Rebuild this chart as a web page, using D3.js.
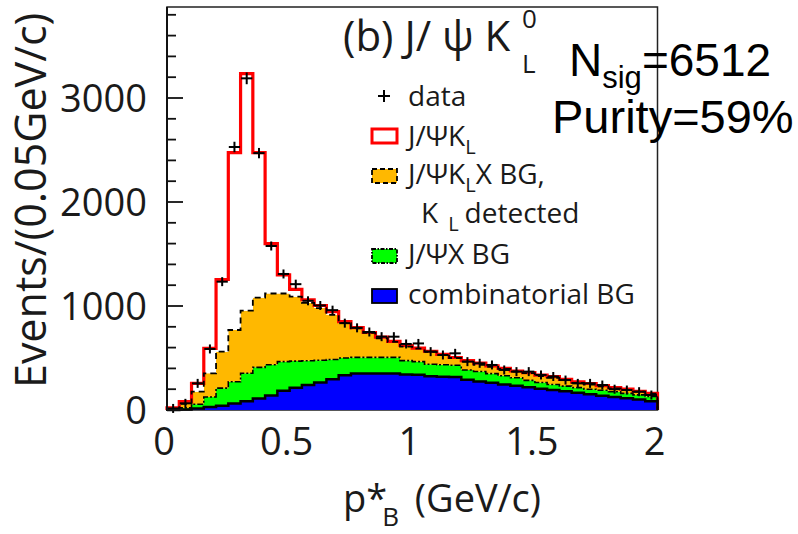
<!DOCTYPE html>
<html>
<head>
<meta charset="utf-8">
<script src="https://cdn.jsdelivr.net/npm/d3@7"></script>
<style>
  body { margin: 0; background: #fff; }
  text { font-family: "Open Sans", "DejaVu Sans", sans-serif; fill: #1a1a1a; }
  .stat { font-family: "Liberation Sans", Arial, sans-serif; fill: #000; }
</style>
</head>
<body>
<svg id="chart" width="798" height="534"></svg>
<script>
// p*_B histogram, 40 bins of 0.05 GeV/c from 0 to 2
const binWidth = 0.05;
const xTicks = [0, 0.5, 1, 1.5, 2];
const xTickLabels = ["0", "0.5", "1", "1.5", "2"];
const yTicks = [0, 1000, 2000, 3000];
const yTickLabels = ["0", "1000", "2000", "3000"];

// stacked components, events per bin
const combinatorialBG = [0, 5, 15, 30, 42, 62, 85, 110, 140, 185, 215, 240, 265, 295, 335, 350, 352, 352, 350, 342,
                         338, 325, 320, 318, 290, 275, 262, 245, 232, 218, 205, 192, 180, 165, 152, 138, 125, 112, 100, 85];
const jpsiXBG = [5, 15, 40, 95, 168, 210, 268, 300, 295, 280, 255, 234, 213, 190, 165, 156, 154, 154, 156, 133,
                 127, 115, 115, 112, 95, 95, 88, 85, 78, 67, 60, 53, 50, 50, 48, 52, 50, 48, 45, 45];
const jpsiKLXBG = [5, 38, 121, 228, 351, 497, 602, 670, 685, 655, 620, 556, 502, 430, 335, 279, 236, 184, 149, 135,
                   125, 120, 95, 70, 80, 65, 65, 65, 60, 70, 60, 65, 58, 45, 45, 38, 33, 32, 31, 28];
const jpsiKLSignal = [10, 22, 80, 240, 694, 1706, 2280, 1395, 480, 180, 70, 30, 25, 30, 15, 7, 3, 10, 5, 10,
                      5, 5, 5, 5, 10, 15, 10, 5, 5, 5, 10, 10, 7, 10, 10, 7, 7, 8, 4, 2];
const dataCounts = [15, 64, 256, 587, 1234, 2529, 3189, 2470, 1577, 1308, 1210, 1050, 1005, 960, 835, 790, 750, 705, 705, 635,
                    640, 561, 529, 545, 465, 449, 433, 385, 369, 369, 337, 322, 288, 256, 256, 240, 200, 192, 176, 144];

const svg = d3.select("#chart");
const plotLeft = 167, plotRight = 657.5, plotTop = 7, plotBottom = 410;

const x = d3.scaleLinear().domain([0, 2]).range([plotLeft, plotRight]);
const y = d3.scaleLinear().domain([0, 3875]).range([plotBottom, plotTop]);

const keys = ["comb", "jpsiX", "jpsiKLX", "signal"];
const rows = combinatorialBG.map((v, i) => ({
  lo: i * binWidth,
  comb: v, jpsiX: jpsiXBG[i], jpsiKLX: jpsiKLXBG[i], signal: jpsiKLSignal[i]
}));
const series = d3.stack().keys(keys)(rows);

const styles = {
  comb:    { fill: "#0000ff", stroke: "#000", width: 2.5, dash: null },
  jpsiX:   { fill: "#00ff00", stroke: "#000", width: 1.6, dash: "6,2,2,2" },
  jpsiKLX: { fill: "#ffb800", stroke: "#000", width: 1.8, dash: "6,4" },
  signal:  { fill: "#ffffff", stroke: "#ff0000", width: 3.2, dash: null }
};

// frame
svg.append("rect")
  .attr("x", plotLeft).attr("y", plotTop)
  .attr("width", plotRight - plotLeft).attr("height", plotBottom - plotTop)
  .attr("fill", "none").attr("stroke", "#222").attr("stroke-width", 1.5);

// step points for a layer
function stepPoints(s) {
  const pts = s.map((d, i) => ({ x: rows[i].lo, y0: d[0], y1: d[1] }));
  const last = s[s.length - 1];
  pts.push({ x: 2, y0: last[0], y1: last[1] });
  return pts;
}

const area = d3.area().curve(d3.curveStepAfter)
  .x(d => x(d.x)).y0(d => y(d.y0)).y1(d => y(d.y1));
const line = d3.line().curve(d3.curveStepAfter)
  .x(d => x(d.x)).y(d => y(d.y1));

const hist = svg.append("g");
series.forEach(s => {
  hist.append("path").attr("d", area(stepPoints(s)))
    .attr("fill", styles[s.key].fill).attr("stroke", "none");
});
// outlines: total first, lower components on top
series.slice().reverse().forEach(s => {
  const pts = stepPoints(s);
  const outline = [{ x: 0, y1: 0 }, ...pts, { x: 2, y1: 0 }];
  hist.append("path").attr("d", line(outline))
    .attr("fill", "none")
    .attr("stroke", styles[s.key].stroke)
    .attr("stroke-width", styles[s.key].width)
    .attr("stroke-dasharray", styles[s.key].dash)
    .attr("stroke-linejoin", "miter");
});

// data points with sqrt(N) errors and bin-width bars
const dataG = svg.append("g").attr("stroke", "#000").attr("stroke-width", 2);
dataCounts.forEach((n, i) => {
  const xc = x(rows[i].lo + binWidth / 2);
  const yc = y(n);
  const half = Math.max(y(0) - y(Math.sqrt(n)), 4.5);
  dataG.append("line").attr("x1", x(rows[i].lo) + 0.5).attr("x2", x(rows[i].lo + binWidth) - 0.5)
    .attr("y1", yc).attr("y2", yc);
  dataG.append("line").attr("x1", xc).attr("x2", xc).attr("y1", yc - half).attr("y2", yc + half);
});

// left axis with inward ticks
const yAxis = svg.append("g");
d3.range(0, 3875, 200).forEach(v => {
  const major = v % 1000 === 0;
  yAxis.append("line").attr("x1", plotLeft).attr("x2", plotLeft + (major ? 16 : 9))
    .attr("y1", y(v)).attr("y2", y(v)).attr("stroke", "#111").attr("stroke-width", 1.8);
});
yAxis.append("line").attr("x1", plotLeft).attr("x2", plotLeft).attr("y1", plotTop).attr("y2", plotBottom + 1)
  .attr("stroke", "#111").attr("stroke-width", 2);
yTicks.forEach((v, i) => {
  yAxis.append("text").attr("x", 147).attr("y", y(v)).attr("dy", "0.36em")
    .attr("text-anchor", "end").attr("font-size", 38).text(yTickLabels[i]);
});
xTicks.forEach((v, i) => {
  svg.append("text").attr("x", x(v) - 3).attr("y", 455)
    .attr("text-anchor", "middle").attr("font-size", 38).text(xTickLabels[i]);
});

// axis titles
svg.append("text").attr("transform", "translate(46,388) rotate(-90)")
  .attr("font-size", 43).text("Events/(0.05GeV/c)");

const xTitle = svg.append("text").attr("x", 343).attr("y", 512).attr("font-size", 38);
xTitle.append("tspan").text("p*");
xTitle.append("tspan").attr("font-size", 26).attr("dx", -5).attr("dy", 14).text("B");
xTitle.append("tspan").attr("dx", 6).attr("dy", -14).text(" (GeV/c)");

// panel title
const title = svg.append("text").attr("x", 343).attr("y", 51).attr("font-size", 42);
title.append("tspan").text("(b) J/ ψ K");
svg.append("text").attr("x", 522).attr("y", 28).attr("font-size", 26).text("0");
svg.append("text").attr("x", 522).attr("y", 73).attr("font-size", 26).text("L");

// legend
const lg = svg.append("g");
lg.append("line").attr("x1", 378).attr("x2", 390).attr("y1", 96).attr("y2", 96).attr("stroke", "#000").attr("stroke-width", 2);
lg.append("line").attr("x1", 384).attr("x2", 384).attr("y1", 90).attr("y2", 102).attr("stroke", "#000").attr("stroke-width", 2);
lg.append("text").attr("x", 408).attr("y", 106).attr("font-size", 28).text("data");

const boxes = [
  { key: "signal", y: 129 },
  { key: "jpsiKLX", y: 169 },
  { key: "jpsiX", y: 249 },
  { key: "comb", y: 289 }
];
boxes.forEach(b => {
  const st = styles[b.key];
  lg.append("rect").attr("x", 372).attr("y", b.y).attr("width", 25).attr("height", 14)
    .attr("fill", st.fill).attr("stroke", st.stroke)
    .attr("stroke-width", b.key === "signal" ? 3 : 1.8)
    .attr("stroke-dasharray", st.dash ? (b.key === "jpsiX" ? "4,1.5,1.5,1.5" : "5,3") : null);
});

const t1 = lg.append("text").attr("x", 408).attr("y", 146).attr("font-size", 28);
t1.append("tspan").text("J/ΨK");
t1.append("tspan").attr("font-size", 20).attr("dy", 8).text("L");

const t2 = lg.append("text").attr("x", 408).attr("y", 184).attr("font-size", 28);
t2.append("tspan").text("J/ΨK");
t2.append("tspan").attr("font-size", 20).attr("dy", 8).text("L");
t2.append("tspan").attr("dy", -8).text("X BG,");

const t3 = lg.append("text").attr("x", 421).attr("y", 223).attr("font-size", 28);
t3.append("tspan").text("K");
t3.append("tspan").attr("font-size", 20).attr("dx", 10).attr("dy", 8).text("L");
t3.append("tspan").attr("dx", 6).attr("dy", -8).text("detected");

lg.append("text").attr("x", 408).attr("y", 264).attr("font-size", 28).text("J/ΨX BG");
lg.append("text").attr("x", 408).attr("y", 304).attr("font-size", 28).text("combinatorial BG");

// fit summary
const nsig = svg.append("text").attr("class", "stat").attr("x", 569).attr("y", 76).attr("font-size", 46);
nsig.append("tspan").text("N");
nsig.append("tspan").attr("font-size", 31).attr("dy", 12).text("sig");
nsig.append("tspan").attr("dy", -12).text("=6512");
svg.append("text").attr("class", "stat").attr("x", 552).attr("y", 133).attr("font-size", 47).text("Purity=59%");
</script>
</body>
</html>
